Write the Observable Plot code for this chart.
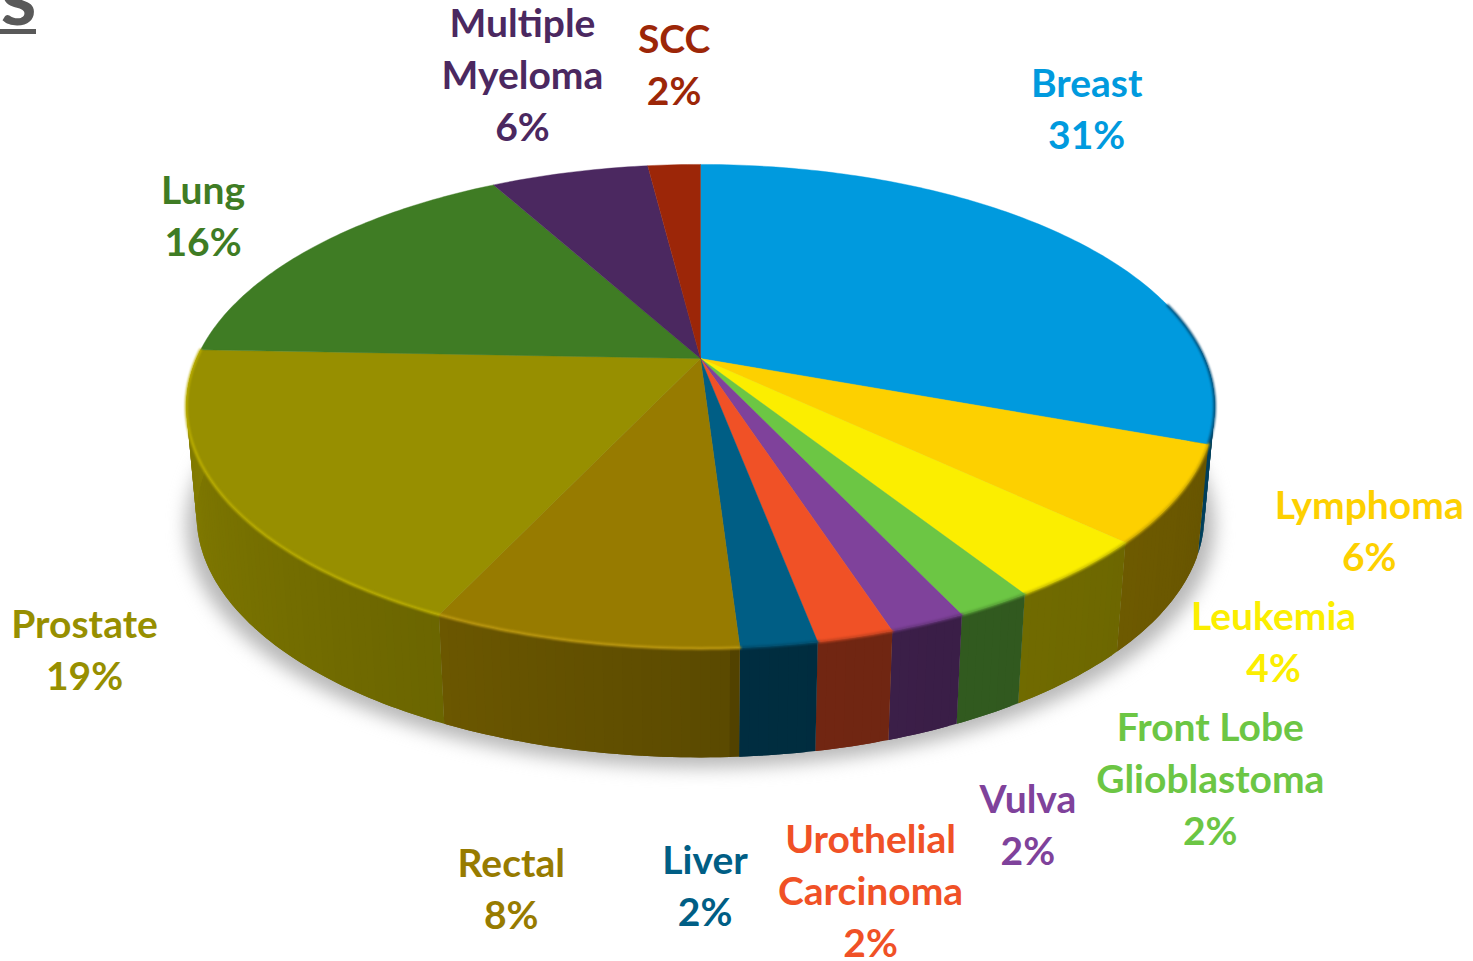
<!DOCTYPE html>
<html>
<head>
<meta charset="utf-8">
<script src="https://cdn.jsdelivr.net/npm/d3@7"></script>
<script src="https://cdn.jsdelivr.net/npm/@observablehq/plot@0.6"></script>
<style>html,body{margin:0;padding:0;background:#fff;overflow:hidden}svg{display:block}</style>
</head>
<body>
<div id="chart"></div>
<script>
// Data (labels show these shares rounded)
const categories = ["Breast","Lymphoma","Leukemia","Front Lobe\nGlioblastoma","Vulva","Urothelial\nCarcinoma","Liver","Rectal","Prostate","Lung","Multiple\nMyeloma","SCC"];
const shares = [30.6,6.4,4,2,2,2,2,8,18.6,16.4,6,2];
const topColors = ["#009ADE","#FDD000","#FBEE00","#6CC644","#7F429B","#F05126","#005E85","#977B00","#978F00","#3F7C24","#4B2860","#9C2608"];
// Layout: label nudges away from each slice's rim midpoint
const labelNudgeX = [15,190,194,216,100,15,-74,-72,-136,-109,-47,0];
const labelNudgeY = [-130,37,72,174,202,254,241,247,157,-32,-97,-99];
// Wall shading by cumulative percent around the pie
const shade = d3.scaleLinear().domain([0,31,48.9,49.1,57,70,76,100]).range([.5,.41,.48,.6,.71,.84,.88,.88]).clamp(true);

// Perspective view of the disc
const k = .198, ax = 504, ay = 232.5, cx = 700, cy = 358, depth = 109, shrink = .98;
function rim(p) {
  const t = 2*Math.PI*p/100, X = Math.sin(t), Y = Math.cos(t), d = 1 + k*Y;
  return [cx + ax*X/d, cy - ay*Y/d];
}
function base(p) { const [x,y] = rim(p); return [cx + (x-cx)*shrink, y + depth]; }
function darken(col, f) { const c = d3.rgb(col); return d3.rgb(c.r*f, c.g*f, c.b*f).formatHex(); }

let acc = 0;
const slices = categories.map((name,i) => {
  const s = {name, share: shares[i], color: topColors[i], from: acc, to: acc + shares[i]};
  acc += shares[i]; s.mid = (s.from + s.to)/2; return s;
});

const faces = [], walls = [], rims = [], shadow = [];
slices.forEach(s => {
  faces.push({z:s.name, color:s.color, x:cx, y:cy});
  const steps = Math.ceil(s.share*4);
  for (let j = 0; j <= steps; j++) {
    const [x,y] = rim(s.from + s.share*j/steps); faces.push({z:s.name, color:s.color, x, y});
  }
  faces.push({z:s.name, color:s.color, x:cx, y:cy});
  if (s.to > 24 && s.from < 75) {
    for (let j = 0; j < steps; j++) {
      const p = s.from + s.share*j/steps;
      if (p < 24) continue;
      const q = Math.min(p + s.share*2/steps, s.to);
      const col = darken(s.color, shade(p)), z = s.name + j;
      // each strip overlaps the next one so that no seam shows
      const pts = [rim(p)];
      for (let u = 1; u <= 2; u++) pts.push(rim(p + (q-p)*u/2));
      for (let u = 2; u >= 0; u--) pts.push(base(p + (q-p)*u/2));
      pts.forEach(([x,y]) => walls.push({z, color:col, x, y}));
    }
    for (let j = 0; j <= steps; j++) {
      const p = s.from + s.share*j/steps;
      if (p < 21) continue;
      const [x,y] = rim(p);
      const col = s.name === "Prostate" ? "#BDB000" : s.name === "Rectal" ? "#BE9A10"
        : s.name === "Breast" ? "#004F7A" : darken(s.color,.8);
      rims.push({z:s.name, color:col, x, y});
    }
  }
});
for (let p = 0; p <= 100; p += .5) { const [x,y] = rim(p); shadow.push({x, y: y + depth + 10}); }

const labels = slices.map((s,i) => {
  const [x,y] = rim(s.mid);
  return {text: `${s.name}\n${Math.round(s.share)}%`, color: s.color, x: x + labelNudgeX[i], y: y + labelNudgeY[i]};
});

const plot = Plot.plot({
  width: 1473, height: 961, margin: 0,
  x: {domain:[0,1473], range:[0,1473], axis:null},
  y: {domain:[0,961], range:[0,961], axis:null},
  color: {type:"identity"},
  marks: [
    Plot.line(shadow, {x:"x", y:"y", fill:"#b8b8b8", stroke:"none", imageFilter:"blur(9px)"}),
    Plot.line(walls, {x:"x", y:"y", z:"z", fill:"color", stroke:"none"}),
    Plot.line(faces, {x:"x", y:"y", z:"z", fill:"color", stroke:"color", strokeWidth:.4}),
    Plot.line(rims, {x:"x", y:"y", z:"z", stroke:"color", strokeWidth:2.5, imageFilter:"blur(1.2px)"}),
    Plot.text(labels, {x:"x", y:"y", dy:-3, text:"text", fill:"color", fontFamily:"Lato", fontWeight:700, fontSize:39, lineHeight:1.333, lineAnchor:"middle"}),
    Plot.text(["s"], {x:[36], y:[4], text:d=>d, fill:"#595959", fontFamily:"Lato", fontWeight:700, fontSize:82, textAnchor:"end", lineAnchor:"bottom", dy:20}),
    Plot.ruleY([31], {x1:0, x2:36, stroke:"#595959", strokeWidth:5})
  ]
});
document.getElementById("chart").appendChild(plot);
</script>
</body>
</html>
